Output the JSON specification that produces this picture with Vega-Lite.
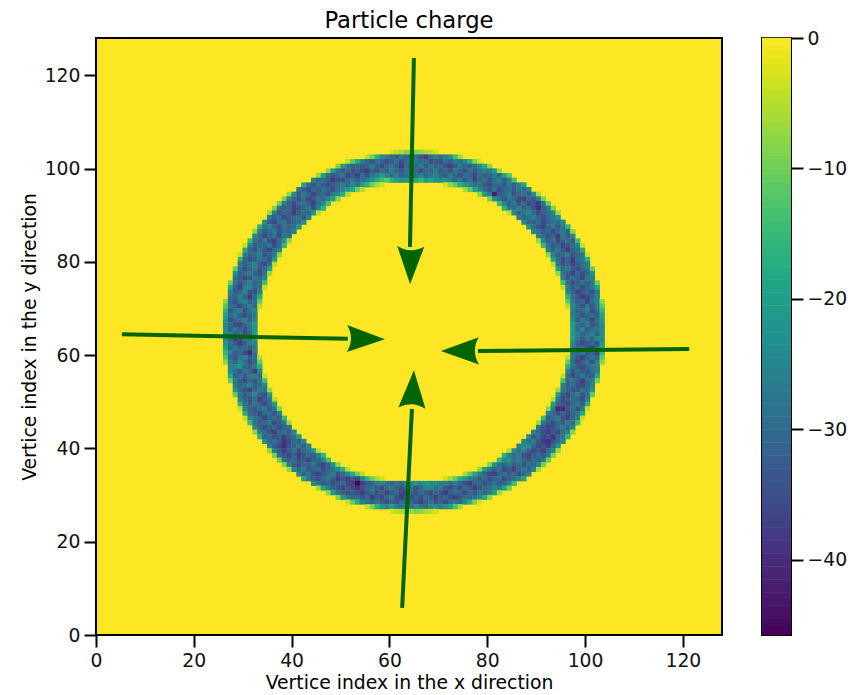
{"$schema":"https://vega.github.io/schema/vega-lite/v6.json","background":"white","padding":{"left":19,"top":9,"right":0,"bottom":0},"spacing":38,"config":{"font":"DejaVu Sans","view":{"stroke":"black","strokeWidth":2},"axis":{"grid":false,"domain":false,"tickColor":"black","tickWidth":2,"tickSize":12,"labelColor":"#111","labelFontSize":18.8,"titleColor":"black","titleFontWeight":"normal","titleFontSize":18.8,"labelPadding":4},"title":{"fontWeight":"normal","fontSize":22.7,"color":"black"}},"hconcat":[{"width":626,"height":597,"title":{"text":"Particle charge","offset":5},"view":{"fill":"#fde725"},"layer":[{"data":{"values":[
{"x":60,"y":103,"v":-3},{"x":61,"y":103,"v":-5},{"x":62,"y":103,"v":-6},{"x":63,"y":103,"v":-8},{"x":64,"y":103,"v":-7},{"x":65,"y":103,"v":-9},{"x":66,"y":103,"v":-8},{"x":67,"y":103,"v":-6},{"x":68,"y":103,"v":-5},{"x":69,"y":103,"v":-3},
{"x":55,"y":102,"v":-5},{"x":56,"y":102,"v":-9},{"x":57,"y":102,"v":-17},{"x":58,"y":102,"v":-24},{"x":59,"y":102,"v":-27},{"x":60,"y":102,"v":-30},{"x":61,"y":102,"v":-33},{"x":62,"y":102,"v":-28},{"x":63,"y":102,"v":-31},{"x":64,"y":102,"v":-36},{"x":65,"y":102,"v":-29},{"x":66,"y":102,"v":-34},{"x":67,"y":102,"v":-37},{"x":68,"y":102,"v":-30},{"x":69,"y":102,"v":-27},{"x":70,"y":102,"v":-31},{"x":71,"y":102,"v":-26},{"x":72,"y":102,"v":-22},{"x":73,"y":102,"v":-14},{"x":74,"y":102,"v":-6},
{"x":51,"y":101,"v":-4},{"x":52,"y":101,"v":-11},{"x":53,"y":101,"v":-18},{"x":54,"y":101,"v":-25},{"x":55,"y":101,"v":-30},{"x":56,"y":101,"v":-34},{"x":57,"y":101,"v":-29},{"x":58,"y":101,"v":-31},{"x":59,"y":101,"v":-36},{"x":60,"y":101,"v":-33},{"x":61,"y":101,"v":-28},{"x":62,"y":101,"v":-35},{"x":63,"y":101,"v":-30},{"x":64,"y":101,"v":-32},{"x":65,"y":101,"v":-27},{"x":66,"y":101,"v":-31},{"x":67,"y":101,"v":-29},{"x":68,"y":101,"v":-36},{"x":69,"y":101,"v":-33},{"x":70,"y":101,"v":-35},{"x":71,"y":101,"v":-28},{"x":72,"y":101,"v":-32},{"x":73,"y":101,"v":-26},{"x":74,"y":101,"v":-29},{"x":75,"y":101,"v":-24},{"x":76,"y":101,"v":-17},{"x":77,"y":101,"v":-9},{"x":78,"y":101,"v":-3},
{"x":49,"y":100,"v":-9},{"x":50,"y":100,"v":-20},{"x":51,"y":100,"v":-28},{"x":52,"y":100,"v":-32},{"x":53,"y":100,"v":-29},{"x":54,"y":100,"v":-34},{"x":55,"y":100,"v":-31},{"x":56,"y":100,"v":-27},{"x":57,"y":100,"v":-33},{"x":58,"y":100,"v":-36},{"x":59,"y":100,"v":-30},{"x":60,"y":100,"v":-28},{"x":61,"y":100,"v":-32},{"x":62,"y":100,"v":-37},{"x":63,"y":100,"v":-29},{"x":64,"y":100,"v":-34},{"x":65,"y":100,"v":-30},{"x":66,"y":100,"v":-26},{"x":67,"y":100,"v":-33},{"x":68,"y":100,"v":-28},{"x":69,"y":100,"v":-31},{"x":70,"y":100,"v":-30},{"x":71,"y":100,"v":-35},{"x":72,"y":100,"v":-37},{"x":73,"y":100,"v":-32},{"x":74,"y":100,"v":-27},{"x":75,"y":100,"v":-30},{"x":76,"y":100,"v":-33},{"x":77,"y":100,"v":-29},{"x":78,"y":100,"v":-24},{"x":79,"y":100,"v":-18},{"x":80,"y":100,"v":-8},
{"x":47,"y":99,"v":-8},{"x":48,"y":99,"v":-21},{"x":49,"y":99,"v":-29},{"x":50,"y":99,"v":-33},{"x":51,"y":99,"v":-30},{"x":52,"y":99,"v":-35},{"x":53,"y":99,"v":-32},{"x":54,"y":99,"v":-36},{"x":55,"y":99,"v":-38},{"x":56,"y":99,"v":-31},{"x":57,"y":99,"v":-35},{"x":58,"y":99,"v":-29},{"x":59,"y":99,"v":-33},{"x":60,"y":99,"v":-27},{"x":61,"y":99,"v":-31},{"x":62,"y":99,"v":-34},{"x":63,"y":99,"v":-28},{"x":64,"y":99,"v":-32},{"x":65,"y":99,"v":-30},{"x":66,"y":99,"v":-36},{"x":67,"y":99,"v":-29},{"x":68,"y":99,"v":-31},{"x":69,"y":99,"v":-27},{"x":70,"y":99,"v":-33},{"x":71,"y":99,"v":-30},{"x":72,"y":99,"v":-34},{"x":73,"y":99,"v":-28},{"x":74,"y":99,"v":-31},{"x":75,"y":99,"v":-35},{"x":76,"y":99,"v":-29},{"x":77,"y":99,"v":-33},{"x":78,"y":99,"v":-30},{"x":79,"y":99,"v":-26},{"x":80,"y":99,"v":-28},{"x":81,"y":99,"v":-20},{"x":82,"y":99,"v":-7},
{"x":45,"y":98,"v":-7},{"x":46,"y":98,"v":-20},{"x":47,"y":98,"v":-30},{"x":48,"y":98,"v":-34},{"x":49,"y":98,"v":-31},{"x":50,"y":98,"v":-28},{"x":51,"y":98,"v":-36},{"x":52,"y":98,"v":-33},{"x":53,"y":98,"v":-37},{"x":54,"y":98,"v":-30},{"x":55,"y":98,"v":-34},{"x":56,"y":98,"v":-28},{"x":57,"y":98,"v":-25},{"x":58,"y":98,"v":-22},{"x":59,"y":98,"v":-26},{"x":60,"y":98,"v":-30},{"x":61,"y":98,"v":-27},{"x":62,"y":98,"v":-32},{"x":63,"y":98,"v":-29},{"x":64,"y":98,"v":-27},{"x":65,"y":98,"v":-29},{"x":66,"y":98,"v":-25},{"x":67,"y":98,"v":-31},{"x":68,"y":98,"v":-28},{"x":69,"y":98,"v":-26},{"x":70,"y":98,"v":-30},{"x":71,"y":98,"v":-33},{"x":72,"y":98,"v":-27},{"x":73,"y":98,"v":-31},{"x":74,"y":98,"v":-35},{"x":75,"y":98,"v":-28},{"x":76,"y":98,"v":-32},{"x":77,"y":98,"v":-36},{"x":78,"y":98,"v":-29},{"x":79,"y":98,"v":-33},{"x":80,"y":98,"v":-30},{"x":81,"y":98,"v":-27},{"x":82,"y":98,"v":-31},{"x":83,"y":98,"v":-19},{"x":84,"y":98,"v":-12},
{"x":44,"y":97,"v":-25},{"x":45,"y":97,"v":-31},{"x":46,"y":97,"v":-28},{"x":47,"y":97,"v":-33},{"x":48,"y":97,"v":-38},{"x":49,"y":97,"v":-34},{"x":50,"y":97,"v":-36},{"x":51,"y":97,"v":-30},{"x":52,"y":97,"v":-27},{"x":53,"y":97,"v":-32},{"x":54,"y":97,"v":-29},{"x":55,"y":97,"v":-26},{"x":56,"y":97,"v":-22},{"x":57,"y":97,"v":-18},{"x":58,"y":97,"v":-14},{"x":59,"y":97,"v":-12},{"x":60,"y":97,"v":-17},{"x":61,"y":97,"v":-20},{"x":62,"y":97,"v":-23},{"x":63,"y":97,"v":-22},{"x":64,"y":97,"v":-20},{"x":65,"y":97,"v":-18},{"x":66,"y":97,"v":-15},{"x":67,"y":97,"v":-21},{"x":68,"y":97,"v":-19},{"x":69,"y":97,"v":-22},{"x":70,"y":97,"v":-24},{"x":71,"y":97,"v":-23},{"x":72,"y":97,"v":-27},{"x":73,"y":97,"v":-30},{"x":74,"y":97,"v":-26},{"x":75,"y":97,"v":-33},{"x":76,"y":97,"v":-29},{"x":77,"y":97,"v":-36},{"x":78,"y":97,"v":-31},{"x":79,"y":97,"v":-28},{"x":80,"y":97,"v":-34},{"x":81,"y":97,"v":-30},{"x":82,"y":97,"v":-26},{"x":83,"y":97,"v":-32},{"x":84,"y":97,"v":-27},{"x":85,"y":97,"v":-14},
{"x":42,"y":96,"v":-19},{"x":43,"y":96,"v":-30},{"x":44,"y":96,"v":-34},{"x":45,"y":96,"v":-29},{"x":46,"y":96,"v":-32},{"x":47,"y":96,"v":-36},{"x":48,"y":96,"v":-33},{"x":49,"y":96,"v":-30},{"x":50,"y":96,"v":-27},{"x":51,"y":96,"v":-31},{"x":52,"y":96,"v":-25},{"x":53,"y":96,"v":-28},{"x":54,"y":96,"v":-20},{"x":55,"y":96,"v":-16},{"x":56,"y":96,"v":-10},{"x":57,"y":96,"v":-6},{"x":58,"y":96,"v":-3},{"x":71,"y":96,"v":-3},{"x":72,"y":96,"v":-7},{"x":73,"y":96,"v":-11},{"x":74,"y":96,"v":-17},{"x":75,"y":96,"v":-21},{"x":76,"y":96,"v":-25},{"x":77,"y":96,"v":-30},{"x":78,"y":96,"v":-28},{"x":79,"y":96,"v":-33},{"x":80,"y":96,"v":-36},{"x":81,"y":96,"v":-31},{"x":82,"y":96,"v":-29},{"x":83,"y":96,"v":-34},{"x":84,"y":96,"v":-27},{"x":85,"y":96,"v":-32},{"x":86,"y":96,"v":-26},{"x":87,"y":96,"v":-19},
{"x":41,"y":95,"v":-28},{"x":42,"y":95,"v":-32},{"x":43,"y":95,"v":-36},{"x":44,"y":95,"v":-30},{"x":45,"y":95,"v":-33},{"x":46,"y":95,"v":-28},{"x":47,"y":95,"v":-31},{"x":48,"y":95,"v":-35},{"x":49,"y":95,"v":-29},{"x":50,"y":95,"v":-26},{"x":51,"y":95,"v":-22},{"x":52,"y":95,"v":-18},{"x":53,"y":95,"v":-10},{"x":54,"y":95,"v":-5},{"x":75,"y":95,"v":-6},{"x":76,"y":95,"v":-12},{"x":77,"y":95,"v":-19},{"x":78,"y":95,"v":-25},{"x":79,"y":95,"v":-30},{"x":80,"y":95,"v":-34},{"x":81,"y":95,"v":-28},{"x":82,"y":95,"v":-36},{"x":83,"y":95,"v":-31},{"x":84,"y":95,"v":-29},{"x":85,"y":95,"v":-33},{"x":86,"y":95,"v":-27},{"x":87,"y":95,"v":-30},{"x":88,"y":95,"v":-26},
{"x":39,"y":94,"v":-7},{"x":40,"y":94,"v":-24},{"x":41,"y":94,"v":-33},{"x":42,"y":94,"v":-28},{"x":43,"y":94,"v":-31},{"x":44,"y":94,"v":-37},{"x":45,"y":94,"v":-32},{"x":46,"y":94,"v":-29},{"x":47,"y":94,"v":-35},{"x":48,"y":94,"v":-27},{"x":49,"y":94,"v":-24},{"x":50,"y":94,"v":-17},{"x":51,"y":94,"v":-6},{"x":78,"y":94,"v":-8},{"x":79,"y":94,"v":-20},{"x":80,"y":94,"v":-27},{"x":81,"y":94,"v":-42},{"x":82,"y":94,"v":-33},{"x":83,"y":94,"v":-30},{"x":84,"y":94,"v":-27},{"x":85,"y":94,"v":-35},{"x":86,"y":94,"v":-31},{"x":87,"y":94,"v":-28},{"x":88,"y":94,"v":-33},{"x":89,"y":94,"v":-24},{"x":90,"y":94,"v":-6},
{"x":38,"y":93,"v":-9},{"x":39,"y":93,"v":-26},{"x":40,"y":93,"v":-31},{"x":41,"y":93,"v":-34},{"x":42,"y":93,"v":-29},{"x":43,"y":93,"v":-36},{"x":44,"y":93,"v":-33},{"x":45,"y":93,"v":-28},{"x":46,"y":93,"v":-30},{"x":47,"y":93,"v":-25},{"x":48,"y":93,"v":-20},{"x":49,"y":93,"v":-8},{"x":80,"y":93,"v":-9},{"x":81,"y":93,"v":-22},{"x":82,"y":93,"v":-29},{"x":83,"y":93,"v":-34},{"x":84,"y":93,"v":-27},{"x":85,"y":93,"v":-31},{"x":86,"y":93,"v":-36},{"x":87,"y":93,"v":-38},{"x":88,"y":93,"v":-30},{"x":89,"y":93,"v":-33},{"x":90,"y":93,"v":-27},{"x":91,"y":93,"v":-9},
{"x":37,"y":92,"v":-10},{"x":38,"y":92,"v":-27},{"x":39,"y":92,"v":-32},{"x":40,"y":92,"v":-35},{"x":41,"y":92,"v":-30},{"x":42,"y":92,"v":-28},{"x":43,"y":92,"v":-33},{"x":44,"y":92,"v":-37},{"x":45,"y":92,"v":-29},{"x":46,"y":92,"v":-24},{"x":47,"y":92,"v":-14},{"x":82,"y":92,"v":-15},{"x":83,"y":92,"v":-26},{"x":84,"y":92,"v":-31},{"x":85,"y":92,"v":-27},{"x":86,"y":92,"v":-34},{"x":87,"y":92,"v":-30},{"x":88,"y":92,"v":-36},{"x":89,"y":92,"v":-33},{"x":90,"y":92,"v":-38},{"x":91,"y":92,"v":-28},{"x":92,"y":92,"v":-10},
{"x":36,"y":91,"v":-9},{"x":37,"y":91,"v":-28},{"x":38,"y":91,"v":-33},{"x":39,"y":91,"v":-30},{"x":40,"y":91,"v":-37},{"x":41,"y":91,"v":-35},{"x":42,"y":91,"v":-31},{"x":43,"y":91,"v":-27},{"x":44,"y":91,"v":-34},{"x":45,"y":91,"v":-26},{"x":46,"y":91,"v":-16},{"x":83,"y":91,"v":-16},{"x":84,"y":91,"v":-27},{"x":85,"y":91,"v":-30},{"x":86,"y":91,"v":-26},{"x":87,"y":91,"v":-33},{"x":88,"y":91,"v":-29},{"x":89,"y":91,"v":-35},{"x":90,"y":91,"v":-40},{"x":91,"y":91,"v":-32},{"x":92,"y":91,"v":-28},{"x":93,"y":91,"v":-9},
{"x":35,"y":90,"v":-7},{"x":36,"y":90,"v":-26},{"x":37,"y":90,"v":-35},{"x":38,"y":90,"v":-30},{"x":39,"y":90,"v":-33},{"x":40,"y":90,"v":-38},{"x":41,"y":90,"v":-32},{"x":42,"y":90,"v":-29},{"x":43,"y":90,"v":-31},{"x":44,"y":90,"v":-22},{"x":45,"y":90,"v":-5},{"x":84,"y":90,"v":-5},{"x":85,"y":90,"v":-24},{"x":86,"y":90,"v":-31},{"x":87,"y":90,"v":-28},{"x":88,"y":90,"v":-25},{"x":89,"y":90,"v":-30},{"x":90,"y":90,"v":-36},{"x":91,"y":90,"v":-33},{"x":92,"y":90,"v":-29},{"x":93,"y":90,"v":-26},{"x":94,"y":90,"v":-7},
{"x":35,"y":89,"v":-26},{"x":36,"y":89,"v":-32},{"x":37,"y":89,"v":-29},{"x":38,"y":89,"v":-36},{"x":39,"y":89,"v":-33},{"x":40,"y":89,"v":-30},{"x":41,"y":89,"v":-28},{"x":42,"y":89,"v":-34},{"x":43,"y":89,"v":-25},{"x":86,"y":89,"v":-27},{"x":87,"y":89,"v":-32},{"x":88,"y":89,"v":-29},{"x":89,"y":89,"v":-26},{"x":90,"y":89,"v":-31},{"x":91,"y":89,"v":-35},{"x":92,"y":89,"v":-30},{"x":93,"y":89,"v":-27},{"x":94,"y":89,"v":-22},
{"x":34,"y":88,"v":-23},{"x":35,"y":88,"v":-33},{"x":36,"y":88,"v":-36},{"x":37,"y":88,"v":-30},{"x":38,"y":88,"v":-27},{"x":39,"y":88,"v":-34},{"x":40,"y":88,"v":-31},{"x":41,"y":88,"v":-29},{"x":42,"y":88,"v":-24},{"x":87,"y":88,"v":-24},{"x":88,"y":88,"v":-31},{"x":89,"y":88,"v":-33},{"x":90,"y":88,"v":-29},{"x":91,"y":88,"v":-36},{"x":92,"y":88,"v":-32},{"x":93,"y":88,"v":-28},{"x":94,"y":88,"v":-30},{"x":95,"y":88,"v":-24},
{"x":33,"y":87,"v":-17},{"x":34,"y":87,"v":-29},{"x":35,"y":87,"v":-25},{"x":36,"y":87,"v":-32},{"x":37,"y":87,"v":-35},{"x":38,"y":87,"v":-28},{"x":39,"y":87,"v":-31},{"x":40,"y":87,"v":-30},{"x":41,"y":87,"v":-22},{"x":88,"y":87,"v":-23},{"x":89,"y":87,"v":-30},{"x":90,"y":87,"v":-34},{"x":91,"y":87,"v":-37},{"x":92,"y":87,"v":-31},{"x":93,"y":87,"v":-28},{"x":94,"y":87,"v":-33},{"x":95,"y":87,"v":-27},{"x":96,"y":87,"v":-16},
{"x":32,"y":86,"v":-8},{"x":33,"y":86,"v":-26},{"x":34,"y":86,"v":-33},{"x":35,"y":86,"v":-30},{"x":36,"y":86,"v":-27},{"x":37,"y":86,"v":-34},{"x":38,"y":86,"v":-29},{"x":39,"y":86,"v":-32},{"x":40,"y":86,"v":-25},{"x":89,"y":86,"v":-25},{"x":90,"y":86,"v":-28},{"x":91,"y":86,"v":-33},{"x":92,"y":86,"v":-30},{"x":93,"y":86,"v":-36},{"x":94,"y":86,"v":-29},{"x":95,"y":86,"v":-27},{"x":96,"y":86,"v":-31},{"x":97,"y":86,"v":-8},
{"x":32,"y":85,"v":-25},{"x":33,"y":85,"v":-30},{"x":34,"y":85,"v":-36},{"x":35,"y":85,"v":-31},{"x":36,"y":85,"v":-28},{"x":37,"y":85,"v":-35},{"x":38,"y":85,"v":-27},{"x":39,"y":85,"v":-29},{"x":90,"y":85,"v":-27},{"x":91,"y":85,"v":-30},{"x":92,"y":85,"v":-35},{"x":93,"y":85,"v":-31},{"x":94,"y":85,"v":-38},{"x":95,"y":85,"v":-28},{"x":96,"y":85,"v":-33},{"x":97,"y":85,"v":-25},
{"x":31,"y":84,"v":-15},{"x":32,"y":84,"v":-29},{"x":33,"y":84,"v":-32},{"x":34,"y":84,"v":-27},{"x":35,"y":84,"v":-34},{"x":36,"y":84,"v":-37},{"x":37,"y":84,"v":-30},{"x":38,"y":84,"v":-22},{"x":39,"y":84,"v":-7},{"x":90,"y":84,"v":-7},{"x":91,"y":84,"v":-25},{"x":92,"y":84,"v":-32},{"x":93,"y":84,"v":-29},{"x":94,"y":84,"v":-36},{"x":95,"y":84,"v":-31},{"x":96,"y":84,"v":-28},{"x":97,"y":84,"v":-33},{"x":98,"y":84,"v":-15},
{"x":30,"y":83,"v":-4},{"x":31,"y":83,"v":-24},{"x":32,"y":83,"v":-33},{"x":33,"y":83,"v":-29},{"x":34,"y":83,"v":-31},{"x":35,"y":83,"v":-27},{"x":36,"y":83,"v":-35},{"x":37,"y":83,"v":-30},{"x":38,"y":83,"v":-15},{"x":91,"y":83,"v":-15},{"x":92,"y":83,"v":-28},{"x":93,"y":83,"v":-33},{"x":94,"y":83,"v":-30},{"x":95,"y":83,"v":-37},{"x":96,"y":83,"v":-34},{"x":97,"y":83,"v":-29},{"x":98,"y":83,"v":-25},{"x":99,"y":83,"v":-4},
{"x":30,"y":82,"v":-18},{"x":31,"y":82,"v":-30},{"x":32,"y":82,"v":-35},{"x":33,"y":82,"v":-28},{"x":34,"y":82,"v":-33},{"x":35,"y":82,"v":-36},{"x":36,"y":82,"v":-29},{"x":37,"y":82,"v":-25},{"x":92,"y":82,"v":-25},{"x":93,"y":82,"v":-31},{"x":94,"y":82,"v":-27},{"x":95,"y":82,"v":-34},{"x":96,"y":82,"v":-38},{"x":97,"y":82,"v":-32},{"x":98,"y":82,"v":-29},{"x":99,"y":82,"v":-18},
{"x":29,"y":81,"v":-4},{"x":30,"y":81,"v":-27},{"x":31,"y":81,"v":-32},{"x":32,"y":81,"v":-29},{"x":33,"y":81,"v":-26},{"x":34,"y":81,"v":-34},{"x":35,"y":81,"v":-31},{"x":36,"y":81,"v":-28},{"x":37,"y":81,"v":-8},{"x":92,"y":81,"v":-8},{"x":93,"y":81,"v":-26},{"x":94,"y":81,"v":-33},{"x":95,"y":81,"v":-30},{"x":96,"y":81,"v":-27},{"x":97,"y":81,"v":-35},{"x":98,"y":81,"v":-31},{"x":99,"y":81,"v":-28},{"x":100,"y":81,"v":-4},
{"x":29,"y":80,"v":-17},{"x":30,"y":80,"v":-31},{"x":31,"y":80,"v":-36},{"x":32,"y":80,"v":-33},{"x":33,"y":80,"v":-28},{"x":34,"y":80,"v":-30},{"x":35,"y":80,"v":-34},{"x":36,"y":80,"v":-20},{"x":93,"y":80,"v":-20},{"x":94,"y":80,"v":-29},{"x":95,"y":80,"v":-36},{"x":96,"y":80,"v":-32},{"x":97,"y":80,"v":-38},{"x":98,"y":80,"v":-30},{"x":99,"y":80,"v":-27},{"x":100,"y":80,"v":-17},
{"x":29,"y":79,"v":-28},{"x":30,"y":79,"v":-33},{"x":31,"y":79,"v":-28},{"x":32,"y":79,"v":-25},{"x":33,"y":79,"v":-32},{"x":34,"y":79,"v":-36},{"x":35,"y":79,"v":-30},{"x":36,"y":79,"v":-5},{"x":93,"y":79,"v":-5},{"x":94,"y":79,"v":-28},{"x":95,"y":79,"v":-34},{"x":96,"y":79,"v":-31},{"x":97,"y":79,"v":-37},{"x":98,"y":79,"v":-33},{"x":99,"y":79,"v":-29},{"x":100,"y":79,"v":-26},
{"x":28,"y":78,"v":-11},{"x":29,"y":78,"v":-29},{"x":30,"y":78,"v":-34},{"x":31,"y":78,"v":-31},{"x":32,"y":78,"v":-27},{"x":33,"y":78,"v":-35},{"x":34,"y":78,"v":-30},{"x":35,"y":78,"v":-20},{"x":94,"y":78,"v":-20},{"x":95,"y":78,"v":-30},{"x":96,"y":78,"v":-27},{"x":97,"y":78,"v":-33},{"x":98,"y":78,"v":-36},{"x":99,"y":78,"v":-31},{"x":100,"y":78,"v":-28},{"x":101,"y":78,"v":-11},
{"x":28,"y":77,"v":-22},{"x":29,"y":77,"v":-33},{"x":30,"y":77,"v":-29},{"x":31,"y":77,"v":-26},{"x":32,"y":77,"v":-31},{"x":33,"y":77,"v":-35},{"x":34,"y":77,"v":-28},{"x":35,"y":77,"v":-7},{"x":94,"y":77,"v":-7},{"x":95,"y":77,"v":-28},{"x":96,"y":77,"v":-33},{"x":97,"y":77,"v":-37},{"x":98,"y":77,"v":-30},{"x":99,"y":77,"v":-34},{"x":100,"y":77,"v":-31},{"x":101,"y":77,"v":-22},
{"x":28,"y":76,"v":-29},{"x":29,"y":76,"v":-31},{"x":30,"y":76,"v":-37},{"x":31,"y":76,"v":-33},{"x":32,"y":76,"v":-28},{"x":33,"y":76,"v":-30},{"x":34,"y":76,"v":-25},{"x":95,"y":76,"v":-25},{"x":96,"y":76,"v":-34},{"x":97,"y":76,"v":-29},{"x":98,"y":76,"v":-32},{"x":99,"y":76,"v":-36},{"x":100,"y":76,"v":-27},{"x":101,"y":76,"v":-26},
{"x":27,"y":75,"v":-10},{"x":28,"y":75,"v":-28},{"x":29,"y":75,"v":-34},{"x":30,"y":75,"v":-30},{"x":31,"y":75,"v":-26},{"x":32,"y":75,"v":-33},{"x":33,"y":75,"v":-29},{"x":34,"y":75,"v":-14},{"x":95,"y":75,"v":-14},{"x":96,"y":75,"v":-30},{"x":97,"y":75,"v":-36},{"x":98,"y":75,"v":-33},{"x":99,"y":75,"v":-28},{"x":100,"y":75,"v":-31},{"x":101,"y":75,"v":-29},{"x":102,"y":75,"v":-10},
{"x":27,"y":74,"v":-18},{"x":28,"y":74,"v":-32},{"x":29,"y":74,"v":-37},{"x":30,"y":74,"v":-27},{"x":31,"y":74,"v":-24},{"x":32,"y":74,"v":-31},{"x":33,"y":74,"v":-28},{"x":34,"y":74,"v":-4},{"x":95,"y":74,"v":-4},{"x":96,"y":74,"v":-26},{"x":97,"y":74,"v":-33},{"x":98,"y":74,"v":-29},{"x":99,"y":74,"v":-35},{"x":100,"y":74,"v":-32},{"x":101,"y":74,"v":-28},{"x":102,"y":74,"v":-18},
{"x":27,"y":73,"v":-26},{"x":28,"y":73,"v":-33},{"x":29,"y":73,"v":-30},{"x":30,"y":73,"v":-25},{"x":31,"y":73,"v":-34},{"x":32,"y":73,"v":-36},{"x":33,"y":73,"v":-25},{"x":96,"y":73,"v":-25},{"x":97,"y":73,"v":-31},{"x":98,"y":73,"v":-37},{"x":99,"y":73,"v":-33},{"x":100,"y":73,"v":-30},{"x":101,"y":73,"v":-35},{"x":102,"y":73,"v":-26},
{"x":27,"y":72,"v":-28},{"x":28,"y":72,"v":-31},{"x":29,"y":72,"v":-26},{"x":30,"y":72,"v":-32},{"x":31,"y":72,"v":-38},{"x":32,"y":72,"v":-30},{"x":33,"y":72,"v":-17},{"x":96,"y":72,"v":-17},{"x":97,"y":72,"v":-29},{"x":98,"y":72,"v":-34},{"x":99,"y":72,"v":-38},{"x":100,"y":72,"v":-36},{"x":101,"y":72,"v":-31},{"x":102,"y":72,"v":-25},
{"x":26,"y":71,"v":-8},{"x":27,"y":71,"v":-30},{"x":28,"y":71,"v":-35},{"x":29,"y":71,"v":-27},{"x":30,"y":71,"v":-24},{"x":31,"y":71,"v":-33},{"x":32,"y":71,"v":-29},{"x":33,"y":71,"v":-11},{"x":96,"y":71,"v":-11},{"x":97,"y":71,"v":-27},{"x":98,"y":71,"v":-33},{"x":99,"y":71,"v":-30},{"x":100,"y":71,"v":-37},{"x":101,"y":71,"v":-29},{"x":102,"y":71,"v":-26},{"x":103,"y":71,"v":-8},
{"x":26,"y":70,"v":-12},{"x":27,"y":70,"v":-28},{"x":28,"y":70,"v":-32},{"x":29,"y":70,"v":-36},{"x":30,"y":70,"v":-30},{"x":31,"y":70,"v":-26},{"x":32,"y":70,"v":-31},{"x":33,"y":70,"v":-5},{"x":96,"y":70,"v":-5},{"x":97,"y":70,"v":-24},{"x":98,"y":70,"v":-30},{"x":99,"y":70,"v":-34},{"x":100,"y":70,"v":-28},{"x":101,"y":70,"v":-33},{"x":102,"y":70,"v":-27},{"x":103,"y":70,"v":-12},
{"x":26,"y":69,"v":-16},{"x":27,"y":69,"v":-33},{"x":28,"y":69,"v":-29},{"x":29,"y":69,"v":-25},{"x":30,"y":69,"v":-35},{"x":31,"y":69,"v":-28},{"x":32,"y":69,"v":-24},{"x":97,"y":69,"v":-27},{"x":98,"y":69,"v":-32},{"x":99,"y":69,"v":-29},{"x":100,"y":69,"v":-26},{"x":101,"y":69,"v":-36},{"x":102,"y":69,"v":-30},{"x":103,"y":69,"v":-16},
{"x":26,"y":68,"v":-19},{"x":27,"y":68,"v":-30},{"x":28,"y":68,"v":-26},{"x":29,"y":68,"v":-33},{"x":30,"y":68,"v":-36},{"x":31,"y":68,"v":-31},{"x":32,"y":68,"v":-27},{"x":97,"y":68,"v":-27},{"x":98,"y":68,"v":-29},{"x":99,"y":68,"v":-35},{"x":100,"y":68,"v":-31},{"x":101,"y":68,"v":-28},{"x":102,"y":68,"v":-33},{"x":103,"y":68,"v":-19},
{"x":26,"y":67,"v":-21},{"x":27,"y":67,"v":-34},{"x":28,"y":67,"v":-31},{"x":29,"y":67,"v":-28},{"x":30,"y":67,"v":-25},{"x":31,"y":67,"v":-33},{"x":32,"y":67,"v":-24},{"x":97,"y":67,"v":-24},{"x":98,"y":67,"v":-33},{"x":99,"y":67,"v":-27},{"x":100,"y":67,"v":-30},{"x":101,"y":67,"v":-36},{"x":102,"y":67,"v":-29},{"x":103,"y":67,"v":-21},
{"x":26,"y":66,"v":-24},{"x":27,"y":66,"v":-29},{"x":28,"y":66,"v":-35},{"x":29,"y":66,"v":-37},{"x":30,"y":66,"v":-30},{"x":31,"y":66,"v":-27},{"x":32,"y":66,"v":-21},{"x":97,"y":66,"v":-21},{"x":98,"y":66,"v":-28},{"x":99,"y":66,"v":-32},{"x":100,"y":66,"v":-26},{"x":101,"y":66,"v":-34},{"x":102,"y":66,"v":-31},{"x":103,"y":66,"v":-24},
{"x":26,"y":65,"v":-24},{"x":27,"y":65,"v":-32},{"x":28,"y":65,"v":-27},{"x":29,"y":65,"v":-31},{"x":30,"y":65,"v":-34},{"x":31,"y":65,"v":-29},{"x":32,"y":65,"v":-21},{"x":97,"y":65,"v":-21},{"x":98,"y":65,"v":-30},{"x":99,"y":65,"v":-25},{"x":100,"y":65,"v":-33},{"x":101,"y":65,"v":-29},{"x":102,"y":65,"v":-27},{"x":103,"y":65,"v":-24},
{"x":26,"y":64,"v":-24},{"x":27,"y":64,"v":-26},{"x":28,"y":64,"v":-33},{"x":29,"y":64,"v":-29},{"x":30,"y":64,"v":-36},{"x":31,"y":64,"v":-31},{"x":32,"y":64,"v":-21},{"x":97,"y":64,"v":-21},{"x":98,"y":64,"v":-26},{"x":99,"y":64,"v":-31},{"x":100,"y":64,"v":-28},{"x":101,"y":64,"v":-25},{"x":102,"y":64,"v":-32},{"x":103,"y":64,"v":-24},
{"x":26,"y":63,"v":-24},{"x":27,"y":63,"v":-31},{"x":28,"y":63,"v":-37},{"x":29,"y":63,"v":-34},{"x":30,"y":63,"v":-28},{"x":31,"y":63,"v":-30},{"x":32,"y":63,"v":-21},{"x":97,"y":63,"v":-21},{"x":98,"y":63,"v":-29},{"x":99,"y":63,"v":-33},{"x":100,"y":63,"v":-27},{"x":101,"y":63,"v":-31},{"x":102,"y":63,"v":-24},{"x":103,"y":63,"v":-24},
{"x":26,"y":62,"v":-22},{"x":27,"y":62,"v":-28},{"x":28,"y":62,"v":-33},{"x":29,"y":62,"v":-38},{"x":30,"y":62,"v":-32},{"x":31,"y":62,"v":-26},{"x":32,"y":62,"v":-24},{"x":97,"y":62,"v":-24},{"x":98,"y":62,"v":-31},{"x":99,"y":62,"v":-36},{"x":100,"y":62,"v":-33},{"x":101,"y":62,"v":-29},{"x":102,"y":62,"v":-35},{"x":103,"y":62,"v":-22},
{"x":26,"y":61,"v":-19},{"x":27,"y":61,"v":-31},{"x":28,"y":61,"v":-27},{"x":29,"y":61,"v":-30},{"x":30,"y":61,"v":-29},{"x":31,"y":61,"v":-34},{"x":32,"y":61,"v":-27},{"x":97,"y":61,"v":-27},{"x":98,"y":61,"v":-32},{"x":99,"y":61,"v":-28},{"x":100,"y":61,"v":-35},{"x":101,"y":61,"v":-38},{"x":102,"y":61,"v":-30},{"x":103,"y":61,"v":-19},
{"x":26,"y":60,"v":-16},{"x":27,"y":60,"v":-26},{"x":28,"y":60,"v":-33},{"x":29,"y":60,"v":-30},{"x":30,"y":60,"v":-36},{"x":31,"y":60,"v":-41},{"x":32,"y":60,"v":-28},{"x":97,"y":60,"v":-28},{"x":98,"y":60,"v":-30},{"x":99,"y":60,"v":-26},{"x":100,"y":60,"v":-33},{"x":101,"y":60,"v":-29},{"x":102,"y":60,"v":-36},{"x":103,"y":60,"v":-16},
{"x":26,"y":59,"v":-12},{"x":27,"y":59,"v":-30},{"x":28,"y":59,"v":-34},{"x":29,"y":59,"v":-28},{"x":30,"y":59,"v":-26},{"x":31,"y":59,"v":-32},{"x":32,"y":59,"v":-29},{"x":33,"y":59,"v":-5},{"x":96,"y":59,"v":-5},{"x":97,"y":59,"v":-27},{"x":98,"y":59,"v":-33},{"x":99,"y":59,"v":-37},{"x":100,"y":59,"v":-30},{"x":101,"y":59,"v":-28},{"x":102,"y":59,"v":-31},{"x":103,"y":59,"v":-12},
{"x":26,"y":58,"v":-8},{"x":27,"y":58,"v":-27},{"x":28,"y":58,"v":-31},{"x":29,"y":58,"v":-24},{"x":30,"y":58,"v":-29},{"x":31,"y":58,"v":-36},{"x":32,"y":58,"v":-31},{"x":33,"y":58,"v":-11},{"x":96,"y":58,"v":-11},{"x":97,"y":58,"v":-30},{"x":98,"y":58,"v":-36},{"x":99,"y":58,"v":-32},{"x":100,"y":58,"v":-28},{"x":101,"y":58,"v":-34},{"x":102,"y":58,"v":-26},{"x":103,"y":58,"v":-8},
{"x":27,"y":57,"v":-26},{"x":28,"y":57,"v":-25},{"x":29,"y":57,"v":-22},{"x":30,"y":57,"v":-30},{"x":31,"y":57,"v":-33},{"x":32,"y":57,"v":-28},{"x":33,"y":57,"v":-17},{"x":96,"y":57,"v":-17},{"x":97,"y":57,"v":-28},{"x":98,"y":57,"v":-33},{"x":99,"y":57,"v":-36},{"x":100,"y":57,"v":-31},{"x":101,"y":57,"v":-27},{"x":102,"y":57,"v":-25},
{"x":27,"y":56,"v":-24},{"x":28,"y":56,"v":-30},{"x":29,"y":56,"v":-34},{"x":30,"y":56,"v":-27},{"x":31,"y":56,"v":-31},{"x":32,"y":56,"v":-38},{"x":33,"y":56,"v":-25},{"x":96,"y":56,"v":-25},{"x":97,"y":56,"v":-34},{"x":98,"y":56,"v":-29},{"x":99,"y":56,"v":-32},{"x":100,"y":56,"v":-35},{"x":101,"y":56,"v":-30},{"x":102,"y":56,"v":-26},
{"x":27,"y":55,"v":-18},{"x":28,"y":55,"v":-31},{"x":29,"y":55,"v":-29},{"x":30,"y":55,"v":-33},{"x":31,"y":55,"v":-28},{"x":32,"y":55,"v":-26},{"x":33,"y":55,"v":-30},{"x":34,"y":55,"v":-4},{"x":95,"y":55,"v":-4},{"x":96,"y":55,"v":-29},{"x":97,"y":55,"v":-36},{"x":98,"y":55,"v":-32},{"x":99,"y":55,"v":-27},{"x":100,"y":55,"v":-31},{"x":101,"y":55,"v":-33},{"x":102,"y":55,"v":-18},
{"x":27,"y":54,"v":-10},{"x":28,"y":54,"v":-27},{"x":29,"y":54,"v":-32},{"x":30,"y":54,"v":-36},{"x":31,"y":54,"v":-30},{"x":32,"y":54,"v":-34},{"x":33,"y":54,"v":-28},{"x":34,"y":54,"v":-14},{"x":95,"y":54,"v":-14},{"x":96,"y":54,"v":-31},{"x":97,"y":54,"v":-28},{"x":98,"y":54,"v":-33},{"x":99,"y":54,"v":-38},{"x":100,"y":54,"v":-30},{"x":101,"y":54,"v":-27},{"x":102,"y":54,"v":-10},
{"x":28,"y":53,"v":-27},{"x":29,"y":53,"v":-31},{"x":30,"y":53,"v":-28},{"x":31,"y":53,"v":-25},{"x":32,"y":53,"v":-33},{"x":33,"y":53,"v":-30},{"x":34,"y":53,"v":-25},{"x":95,"y":53,"v":-25},{"x":96,"y":53,"v":-32},{"x":97,"y":53,"v":-29},{"x":98,"y":53,"v":-34},{"x":99,"y":53,"v":-36},{"x":100,"y":53,"v":-31},{"x":101,"y":53,"v":-26},
{"x":28,"y":52,"v":-22},{"x":29,"y":52,"v":-30},{"x":30,"y":52,"v":-34},{"x":31,"y":52,"v":-37},{"x":32,"y":52,"v":-31},{"x":33,"y":52,"v":-27},{"x":34,"y":52,"v":-29},{"x":35,"y":52,"v":-7},{"x":94,"y":52,"v":-7},{"x":95,"y":52,"v":-27},{"x":96,"y":52,"v":-31},{"x":97,"y":52,"v":-35},{"x":98,"y":52,"v":-33},{"x":99,"y":52,"v":-28},{"x":100,"y":52,"v":-30},{"x":101,"y":52,"v":-22},
{"x":28,"y":51,"v":-11},{"x":29,"y":51,"v":-28},{"x":30,"y":51,"v":-33},{"x":31,"y":51,"v":-29},{"x":32,"y":51,"v":-26},{"x":33,"y":51,"v":-32},{"x":34,"y":51,"v":-35},{"x":35,"y":51,"v":-20},{"x":94,"y":51,"v":-20},{"x":95,"y":51,"v":-33},{"x":96,"y":51,"v":-37},{"x":97,"y":51,"v":-30},{"x":98,"y":51,"v":-27},{"x":99,"y":51,"v":-34},{"x":100,"y":51,"v":-29},{"x":101,"y":51,"v":-11},
{"x":29,"y":50,"v":-27},{"x":30,"y":50,"v":-31},{"x":31,"y":50,"v":-35},{"x":32,"y":50,"v":-30},{"x":33,"y":50,"v":-38},{"x":34,"y":50,"v":-33},{"x":35,"y":50,"v":-28},{"x":36,"y":50,"v":-5},{"x":93,"y":50,"v":-5},{"x":94,"y":50,"v":-28},{"x":95,"y":50,"v":-36},{"x":96,"y":50,"v":-33},{"x":97,"y":50,"v":-29},{"x":98,"y":50,"v":-31},{"x":99,"y":50,"v":-35},{"x":100,"y":50,"v":-26},
{"x":29,"y":49,"v":-17},{"x":30,"y":49,"v":-29},{"x":31,"y":49,"v":-33},{"x":32,"y":49,"v":-27},{"x":33,"y":49,"v":-31},{"x":34,"y":49,"v":-36},{"x":35,"y":49,"v":-30},{"x":36,"y":49,"v":-20},{"x":93,"y":49,"v":-20},{"x":94,"y":49,"v":-31},{"x":95,"y":49,"v":-34},{"x":96,"y":49,"v":-36},{"x":97,"y":49,"v":-30},{"x":98,"y":49,"v":-27},{"x":99,"y":49,"v":-33},{"x":100,"y":49,"v":-17},
{"x":29,"y":48,"v":-4},{"x":30,"y":48,"v":-26},{"x":31,"y":48,"v":-31},{"x":32,"y":48,"v":-34},{"x":33,"y":48,"v":-29},{"x":34,"y":48,"v":-27},{"x":35,"y":48,"v":-33},{"x":36,"y":48,"v":-28},{"x":37,"y":48,"v":-8},{"x":92,"y":48,"v":-8},{"x":93,"y":48,"v":-27},{"x":94,"y":48,"v":-41},{"x":95,"y":48,"v":-41},{"x":96,"y":48,"v":-33},{"x":97,"y":48,"v":-29},{"x":98,"y":48,"v":-35},{"x":99,"y":48,"v":-28},{"x":100,"y":48,"v":-4},
{"x":30,"y":47,"v":-18},{"x":31,"y":47,"v":-30},{"x":32,"y":47,"v":-33},{"x":33,"y":47,"v":-36},{"x":34,"y":47,"v":-30},{"x":35,"y":47,"v":-28},{"x":36,"y":47,"v":-34},{"x":37,"y":47,"v":-25},{"x":92,"y":47,"v":-25},{"x":93,"y":47,"v":-30},{"x":94,"y":47,"v":-34},{"x":95,"y":47,"v":-31},{"x":96,"y":47,"v":-36},{"x":97,"y":47,"v":-30},{"x":98,"y":47,"v":-27},{"x":99,"y":47,"v":-18},
{"x":30,"y":46,"v":-4},{"x":31,"y":46,"v":-24},{"x":32,"y":46,"v":-28},{"x":33,"y":46,"v":-32},{"x":34,"y":46,"v":-37},{"x":35,"y":46,"v":-31},{"x":36,"y":46,"v":-29},{"x":37,"y":46,"v":-33},{"x":38,"y":46,"v":-15},{"x":91,"y":46,"v":-15},{"x":92,"y":46,"v":-33},{"x":93,"y":46,"v":-29},{"x":94,"y":46,"v":-27},{"x":95,"y":46,"v":-34},{"x":96,"y":46,"v":-38},{"x":97,"y":46,"v":-31},{"x":98,"y":46,"v":-25},{"x":99,"y":46,"v":-4},
{"x":31,"y":45,"v":-15},{"x":32,"y":45,"v":-29},{"x":33,"y":45,"v":-33},{"x":34,"y":45,"v":-30},{"x":35,"y":45,"v":-27},{"x":36,"y":45,"v":-36},{"x":37,"y":45,"v":-32},{"x":38,"y":45,"v":-28},{"x":39,"y":45,"v":-7},{"x":90,"y":45,"v":-7},{"x":91,"y":45,"v":-28},{"x":92,"y":45,"v":-32},{"x":93,"y":45,"v":-36},{"x":94,"y":45,"v":-30},{"x":95,"y":45,"v":-33},{"x":96,"y":45,"v":-27},{"x":97,"y":45,"v":-30},{"x":98,"y":45,"v":-15},
{"x":32,"y":44,"v":-25},{"x":33,"y":44,"v":-31},{"x":34,"y":44,"v":-36},{"x":35,"y":44,"v":-33},{"x":36,"y":44,"v":-29},{"x":37,"y":44,"v":-35},{"x":38,"y":44,"v":-31},{"x":39,"y":44,"v":-29},{"x":90,"y":44,"v":-28},{"x":91,"y":44,"v":-33},{"x":92,"y":44,"v":-37},{"x":93,"y":44,"v":-34},{"x":94,"y":44,"v":-30},{"x":95,"y":44,"v":-27},{"x":96,"y":44,"v":-31},{"x":97,"y":44,"v":-25},
{"x":32,"y":43,"v":-8},{"x":33,"y":43,"v":-27},{"x":34,"y":43,"v":-30},{"x":35,"y":43,"v":-34},{"x":36,"y":43,"v":-38},{"x":37,"y":43,"v":-31},{"x":38,"y":43,"v":-28},{"x":39,"y":43,"v":-33},{"x":40,"y":43,"v":-25},{"x":89,"y":43,"v":-25},{"x":90,"y":43,"v":-30},{"x":91,"y":43,"v":-35},{"x":92,"y":43,"v":-38},{"x":93,"y":43,"v":-32},{"x":94,"y":43,"v":-36},{"x":95,"y":43,"v":-29},{"x":96,"y":43,"v":-27},{"x":97,"y":43,"v":-8},
{"x":33,"y":42,"v":-17},{"x":34,"y":42,"v":-32},{"x":35,"y":42,"v":-29},{"x":36,"y":42,"v":-35},{"x":37,"y":42,"v":-31},{"x":38,"y":42,"v":-37},{"x":39,"y":42,"v":-33},{"x":40,"y":42,"v":-30},{"x":41,"y":42,"v":-22},{"x":88,"y":42,"v":-23},{"x":89,"y":42,"v":-33},{"x":90,"y":42,"v":-29},{"x":91,"y":42,"v":-36},{"x":92,"y":42,"v":-34},{"x":93,"y":42,"v":-39},{"x":94,"y":42,"v":-31},{"x":95,"y":42,"v":-28},{"x":96,"y":42,"v":-16},
{"x":34,"y":41,"v":-23},{"x":35,"y":41,"v":-31},{"x":36,"y":41,"v":-28},{"x":37,"y":41,"v":-33},{"x":38,"y":41,"v":-39},{"x":39,"y":41,"v":-36},{"x":40,"y":41,"v":-30},{"x":41,"y":41,"v":-33},{"x":42,"y":41,"v":-24},{"x":87,"y":41,"v":-24},{"x":88,"y":41,"v":-30},{"x":89,"y":41,"v":-27},{"x":90,"y":41,"v":-33},{"x":91,"y":41,"v":-38},{"x":92,"y":41,"v":-40},{"x":93,"y":41,"v":-35},{"x":94,"y":41,"v":-31},{"x":95,"y":41,"v":-24},
{"x":35,"y":40,"v":-26},{"x":36,"y":40,"v":-33},{"x":37,"y":40,"v":-36},{"x":38,"y":40,"v":-40},{"x":39,"y":40,"v":-34},{"x":40,"y":40,"v":-31},{"x":41,"y":40,"v":-28},{"x":42,"y":40,"v":-32},{"x":43,"y":40,"v":-25},{"x":86,"y":40,"v":-27},{"x":87,"y":40,"v":-25},{"x":88,"y":40,"v":-23},{"x":89,"y":40,"v":-30},{"x":90,"y":40,"v":-36},{"x":91,"y":40,"v":-34},{"x":92,"y":40,"v":-38},{"x":93,"y":40,"v":-31},{"x":94,"y":40,"v":-22},
{"x":35,"y":39,"v":-7},{"x":36,"y":39,"v":-27},{"x":37,"y":39,"v":-32},{"x":38,"y":39,"v":-37},{"x":39,"y":39,"v":-33},{"x":40,"y":39,"v":-29},{"x":41,"y":39,"v":-35},{"x":42,"y":39,"v":-31},{"x":43,"y":39,"v":-28},{"x":44,"y":39,"v":-22},{"x":45,"y":39,"v":-5},{"x":84,"y":39,"v":-5},{"x":85,"y":39,"v":-24},{"x":86,"y":39,"v":-29},{"x":87,"y":39,"v":-26},{"x":88,"y":39,"v":-32},{"x":89,"y":39,"v":-36},{"x":90,"y":39,"v":-33},{"x":91,"y":39,"v":-37},{"x":92,"y":39,"v":-30},{"x":93,"y":39,"v":-26},{"x":94,"y":39,"v":-7},
{"x":36,"y":38,"v":-9},{"x":37,"y":38,"v":-29},{"x":38,"y":38,"v":-33},{"x":39,"y":38,"v":-36},{"x":40,"y":38,"v":-31},{"x":41,"y":38,"v":-38},{"x":42,"y":38,"v":-34},{"x":43,"y":38,"v":-30},{"x":44,"y":38,"v":-33},{"x":45,"y":38,"v":-26},{"x":46,"y":38,"v":-16},{"x":83,"y":38,"v":-16},{"x":84,"y":38,"v":-26},{"x":85,"y":38,"v":-30},{"x":86,"y":38,"v":-27},{"x":87,"y":38,"v":-34},{"x":88,"y":38,"v":-37},{"x":89,"y":38,"v":-32},{"x":90,"y":38,"v":-29},{"x":91,"y":38,"v":-33},{"x":92,"y":38,"v":-27},{"x":93,"y":38,"v":-9},
{"x":37,"y":37,"v":-10},{"x":38,"y":37,"v":-28},{"x":39,"y":37,"v":-32},{"x":40,"y":37,"v":-29},{"x":41,"y":37,"v":-35},{"x":42,"y":37,"v":-33},{"x":43,"y":37,"v":-37},{"x":44,"y":37,"v":-31},{"x":45,"y":37,"v":-29},{"x":46,"y":37,"v":-25},{"x":47,"y":37,"v":-14},{"x":82,"y":37,"v":-15},{"x":83,"y":37,"v":-24},{"x":84,"y":37,"v":-22},{"x":85,"y":37,"v":-29},{"x":86,"y":37,"v":-26},{"x":87,"y":37,"v":-31},{"x":88,"y":37,"v":-35},{"x":89,"y":37,"v":-29},{"x":90,"y":37,"v":-32},{"x":91,"y":37,"v":-28},{"x":92,"y":37,"v":-10},
{"x":38,"y":36,"v":-9},{"x":39,"y":36,"v":-27},{"x":40,"y":36,"v":-33},{"x":41,"y":36,"v":-36},{"x":42,"y":36,"v":-30},{"x":43,"y":36,"v":-32},{"x":44,"y":36,"v":-28},{"x":45,"y":36,"v":-34},{"x":46,"y":36,"v":-37},{"x":47,"y":36,"v":-31},{"x":48,"y":36,"v":-22},{"x":49,"y":36,"v":-8},{"x":80,"y":36,"v":-9},{"x":81,"y":36,"v":-22},{"x":82,"y":36,"v":-28},{"x":83,"y":36,"v":-31},{"x":84,"y":36,"v":-27},{"x":85,"y":36,"v":-33},{"x":86,"y":36,"v":-30},{"x":87,"y":36,"v":-34},{"x":88,"y":36,"v":-29},{"x":89,"y":36,"v":-32},{"x":90,"y":36,"v":-26},{"x":91,"y":36,"v":-9},
{"x":39,"y":35,"v":-7},{"x":40,"y":35,"v":-25},{"x":41,"y":35,"v":-30},{"x":42,"y":35,"v":-27},{"x":43,"y":35,"v":-33},{"x":44,"y":35,"v":-31},{"x":45,"y":35,"v":-29},{"x":46,"y":35,"v":-35},{"x":47,"y":35,"v":-32},{"x":48,"y":35,"v":-28},{"x":49,"y":35,"v":-24},{"x":50,"y":35,"v":-17},{"x":51,"y":35,"v":-6},{"x":78,"y":35,"v":-8},{"x":79,"y":35,"v":-20},{"x":80,"y":35,"v":-26},{"x":81,"y":35,"v":-31},{"x":82,"y":35,"v":-28},{"x":83,"y":35,"v":-36},{"x":84,"y":35,"v":-33},{"x":85,"y":35,"v":-37},{"x":86,"y":35,"v":-30},{"x":87,"y":35,"v":-27},{"x":88,"y":35,"v":-32},{"x":89,"y":35,"v":-25},{"x":90,"y":35,"v":-6},
{"x":41,"y":34,"v":-26},{"x":42,"y":34,"v":-31},{"x":43,"y":34,"v":-28},{"x":44,"y":34,"v":-34},{"x":45,"y":34,"v":-37},{"x":46,"y":34,"v":-33},{"x":47,"y":34,"v":-30},{"x":48,"y":34,"v":-27},{"x":49,"y":34,"v":-34},{"x":50,"y":34,"v":-31},{"x":51,"y":34,"v":-24},{"x":52,"y":34,"v":-18},{"x":53,"y":34,"v":-10},{"x":54,"y":34,"v":-5},{"x":75,"y":34,"v":-6},{"x":76,"y":34,"v":-12},{"x":77,"y":34,"v":-19},{"x":78,"y":34,"v":-25},{"x":79,"y":34,"v":-32},{"x":80,"y":34,"v":-36},{"x":81,"y":34,"v":-38},{"x":82,"y":34,"v":-31},{"x":83,"y":34,"v":-28},{"x":84,"y":34,"v":-33},{"x":85,"y":34,"v":-30},{"x":86,"y":34,"v":-35},{"x":87,"y":34,"v":-31},{"x":88,"y":34,"v":-26},
{"x":42,"y":33,"v":-19},{"x":43,"y":33,"v":-29},{"x":44,"y":33,"v":-32},{"x":45,"y":33,"v":-35},{"x":46,"y":33,"v":-30},{"x":47,"y":33,"v":-27},{"x":48,"y":33,"v":-33},{"x":49,"y":33,"v":-38},{"x":50,"y":33,"v":-34},{"x":51,"y":33,"v":-37},{"x":52,"y":33,"v":-33},{"x":53,"y":33,"v":-36},{"x":54,"y":33,"v":-24},{"x":55,"y":33,"v":-16},{"x":56,"y":33,"v":-10},{"x":57,"y":33,"v":-6},{"x":58,"y":33,"v":-3},{"x":71,"y":33,"v":-3},{"x":72,"y":33,"v":-7},{"x":73,"y":33,"v":-11},{"x":74,"y":33,"v":-17},{"x":75,"y":33,"v":-21},{"x":76,"y":33,"v":-26},{"x":77,"y":33,"v":-29},{"x":78,"y":33,"v":-33},{"x":79,"y":33,"v":-30},{"x":80,"y":33,"v":-35},{"x":81,"y":33,"v":-31},{"x":82,"y":33,"v":-28},{"x":83,"y":33,"v":-36},{"x":84,"y":33,"v":-32},{"x":85,"y":33,"v":-29},{"x":86,"y":33,"v":-26},{"x":87,"y":33,"v":-19},
{"x":44,"y":32,"v":-24},{"x":45,"y":32,"v":-28},{"x":46,"y":32,"v":-33},{"x":47,"y":32,"v":-30},{"x":48,"y":32,"v":-36},{"x":49,"y":32,"v":-33},{"x":50,"y":32,"v":-29},{"x":51,"y":32,"v":-35},{"x":52,"y":32,"v":-38},{"x":53,"y":32,"v":-45},{"x":54,"y":32,"v":-37},{"x":55,"y":32,"v":-33},{"x":56,"y":32,"v":-31},{"x":57,"y":32,"v":-27},{"x":58,"y":32,"v":-24},{"x":59,"y":32,"v":-29},{"x":60,"y":32,"v":-32},{"x":61,"y":32,"v":-28},{"x":62,"y":32,"v":-30},{"x":63,"y":32,"v":-26},{"x":64,"y":32,"v":-24},{"x":65,"y":32,"v":-22},{"x":66,"y":32,"v":-25},{"x":67,"y":32,"v":-21},{"x":68,"y":32,"v":-24},{"x":69,"y":32,"v":-23},{"x":70,"y":32,"v":-27},{"x":71,"y":32,"v":-25},{"x":72,"y":32,"v":-29},{"x":73,"y":32,"v":-26},{"x":74,"y":32,"v":-31},{"x":75,"y":32,"v":-34},{"x":76,"y":32,"v":-37},{"x":77,"y":32,"v":-32},{"x":78,"y":32,"v":-29},{"x":79,"y":32,"v":-35},{"x":80,"y":32,"v":-31},{"x":81,"y":32,"v":-28},{"x":82,"y":32,"v":-33},{"x":83,"y":32,"v":-30},{"x":84,"y":32,"v":-26},{"x":85,"y":32,"v":-14},
{"x":45,"y":31,"v":-7},{"x":46,"y":31,"v":-20},{"x":47,"y":31,"v":-27},{"x":48,"y":31,"v":-31},{"x":49,"y":31,"v":-34},{"x":50,"y":31,"v":-37},{"x":51,"y":31,"v":-33},{"x":52,"y":31,"v":-36},{"x":53,"y":31,"v":-39},{"x":54,"y":31,"v":-35},{"x":55,"y":31,"v":-31},{"x":56,"y":31,"v":-28},{"x":57,"y":31,"v":-33},{"x":58,"y":31,"v":-36},{"x":59,"y":31,"v":-30},{"x":60,"y":31,"v":-27},{"x":61,"y":31,"v":-32},{"x":62,"y":31,"v":-35},{"x":63,"y":31,"v":-31},{"x":64,"y":31,"v":-28},{"x":65,"y":31,"v":-34},{"x":66,"y":31,"v":-30},{"x":67,"y":31,"v":-26},{"x":68,"y":31,"v":-24},{"x":69,"y":31,"v":-29},{"x":70,"y":31,"v":-27},{"x":71,"y":31,"v":-33},{"x":72,"y":31,"v":-36},{"x":73,"y":31,"v":-31},{"x":74,"y":31,"v":-35},{"x":75,"y":31,"v":-30},{"x":76,"y":31,"v":-33},{"x":77,"y":31,"v":-38},{"x":78,"y":31,"v":-34},{"x":79,"y":31,"v":-30},{"x":80,"y":31,"v":-28},{"x":81,"y":31,"v":-25},{"x":82,"y":31,"v":-27},{"x":83,"y":31,"v":-19},{"x":84,"y":31,"v":-10},
{"x":47,"y":30,"v":-8},{"x":48,"y":30,"v":-21},{"x":49,"y":30,"v":-29},{"x":50,"y":30,"v":-33},{"x":51,"y":30,"v":-36},{"x":52,"y":30,"v":-32},{"x":53,"y":30,"v":-35},{"x":54,"y":30,"v":-38},{"x":55,"y":30,"v":-33},{"x":56,"y":30,"v":-29},{"x":57,"y":30,"v":-34},{"x":58,"y":30,"v":-31},{"x":59,"y":30,"v":-37},{"x":60,"y":30,"v":-33},{"x":61,"y":30,"v":-30},{"x":62,"y":30,"v":-36},{"x":63,"y":30,"v":-38},{"x":64,"y":30,"v":-32},{"x":65,"y":30,"v":-35},{"x":66,"y":30,"v":-29},{"x":67,"y":30,"v":-33},{"x":68,"y":30,"v":-36},{"x":69,"y":30,"v":-31},{"x":70,"y":30,"v":-34},{"x":71,"y":30,"v":-38},{"x":72,"y":30,"v":-33},{"x":73,"y":30,"v":-29},{"x":74,"y":30,"v":-32},{"x":75,"y":30,"v":-36},{"x":76,"y":30,"v":-30},{"x":77,"y":30,"v":-33},{"x":78,"y":30,"v":-27},{"x":79,"y":30,"v":-31},{"x":80,"y":30,"v":-28},{"x":81,"y":30,"v":-20},{"x":82,"y":30,"v":-7},
{"x":49,"y":29,"v":-9},{"x":50,"y":29,"v":-20},{"x":51,"y":29,"v":-27},{"x":52,"y":29,"v":-31},{"x":53,"y":29,"v":-28},{"x":54,"y":29,"v":-34},{"x":55,"y":29,"v":-30},{"x":56,"y":29,"v":-37},{"x":57,"y":29,"v":-33},{"x":58,"y":29,"v":-36},{"x":59,"y":29,"v":-31},{"x":60,"y":29,"v":-28},{"x":61,"y":29,"v":-34},{"x":62,"y":29,"v":-38},{"x":63,"y":29,"v":-32},{"x":64,"y":29,"v":-36},{"x":65,"y":29,"v":-31},{"x":66,"y":29,"v":-35},{"x":67,"y":29,"v":-29},{"x":68,"y":29,"v":-33},{"x":69,"y":29,"v":-37},{"x":70,"y":29,"v":-32},{"x":71,"y":29,"v":-30},{"x":72,"y":29,"v":-35},{"x":73,"y":29,"v":-38},{"x":74,"y":29,"v":-33},{"x":75,"y":29,"v":-29},{"x":76,"y":29,"v":-31},{"x":77,"y":29,"v":-28},{"x":78,"y":29,"v":-24},{"x":79,"y":29,"v":-18},{"x":80,"y":29,"v":-8},
{"x":51,"y":28,"v":-4},{"x":52,"y":28,"v":-11},{"x":53,"y":28,"v":-18},{"x":54,"y":28,"v":-25},{"x":55,"y":28,"v":-29},{"x":56,"y":28,"v":-32},{"x":57,"y":28,"v":-28},{"x":58,"y":28,"v":-33},{"x":59,"y":28,"v":-36},{"x":60,"y":28,"v":-31},{"x":61,"y":28,"v":-34},{"x":62,"y":28,"v":-29},{"x":63,"y":28,"v":-33},{"x":64,"y":28,"v":-30},{"x":65,"y":28,"v":-35},{"x":66,"y":28,"v":-37},{"x":67,"y":28,"v":-32},{"x":68,"y":28,"v":-29},{"x":69,"y":28,"v":-34},{"x":70,"y":28,"v":-31},{"x":71,"y":28,"v":-36},{"x":72,"y":28,"v":-30},{"x":73,"y":28,"v":-27},{"x":74,"y":28,"v":-31},{"x":75,"y":28,"v":-24},{"x":76,"y":28,"v":-17},{"x":77,"y":28,"v":-9},{"x":78,"y":28,"v":-3},
{"x":55,"y":27,"v":-5},{"x":56,"y":27,"v":-9},{"x":57,"y":27,"v":-17},{"x":58,"y":27,"v":-22},{"x":59,"y":27,"v":-25},{"x":60,"y":27,"v":-21},{"x":61,"y":27,"v":-27},{"x":62,"y":27,"v":-30},{"x":63,"y":27,"v":-26},{"x":64,"y":27,"v":-29},{"x":65,"y":27,"v":-24},{"x":66,"y":27,"v":-28},{"x":67,"y":27,"v":-31},{"x":68,"y":27,"v":-26},{"x":69,"y":27,"v":-24},{"x":70,"y":27,"v":-27},{"x":71,"y":27,"v":-23},{"x":72,"y":27,"v":-20},{"x":73,"y":27,"v":-13},{"x":74,"y":27,"v":-6},
{"x":60,"y":26,"v":-3},{"x":61,"y":26,"v":-5},{"x":62,"y":26,"v":-6},{"x":63,"y":26,"v":-8},{"x":64,"y":26,"v":-7},{"x":65,"y":26,"v":-9},{"x":66,"y":26,"v":-8},{"x":67,"y":26,"v":-6},{"x":68,"y":26,"v":-5},{"x":69,"y":26,"v":-3}
]},"mark":{"type":"rect","width":5.3,"height":5.1,"xOffset":2.445,"yOffset":-2.33},"encoding":{"x":{"field":"x","type":"quantitative","scale":{"domain":[0,128],"nice":false},"axis":{"values":[0,20,40,60,80,100,120],"title":"Vertice index in the x direction","titlePadding":4,"labelFlush":false}},"y":{"field":"y","type":"quantitative","scale":{"domain":[0,128],"nice":false},"axis":{"values":[0,20,40,60,80,100,120],"title":"Vertice index in the y direction","titlePadding":5}},"color":{"field":"v","type":"quantitative","scale":{"scheme":"viridis","domain":[-45.75,0]},"legend":null}}},{"data":{"values":[{"arrow":"top","x":65.0,"y":123.7},{"arrow":"top","x":64.2,"y":83.2},{"arrow":"left","x":5.3,"y":64.5},{"arrow":"left","x":51.5,"y":63.5},{"arrow":"right","x":121.3,"y":61.3},{"arrow":"right","x":78.1,"y":60.9},{"arrow":"bottom","x":62.6,"y":5.8},{"arrow":"bottom","x":64.6,"y":48.5}]},"mark":{"type":"line","color":"#006400","strokeWidth":4},"encoding":{"x":{"field":"x","type":"quantitative"},"y":{"field":"y","type":"quantitative"},"detail":{"field":"arrow"}}},{"data":{"values":[{"arrow":"top","x":64.3,"y":79.3,"angle":181},{"arrow":"left","x":55.2,"y":63.5,"angle":91},{"arrow":"right","x":74.4,"y":60.9,"angle":269.5},{"arrow":"bottom","x":64.8,"y":52.7,"angle":2.9}]},"mark":{"type":"point","filled":true,"opacity":1,"color":"#006400","size":1600,"shape":"M0,-0.95L0.68,0.95Q0,0.55,-0.68,0.95Z"},"encoding":{"x":{"field":"x","type":"quantitative"},"y":{"field":"y","type":"quantitative"},"angle":{"field":"angle","type":"quantitative","scale":null}}}]},{"width":29,"height":597,"data":{"values":[{"c":-0.25},{"c":-0.75},{"c":-1.25},{"c":-1.75},{"c":-2.25},{"c":-2.75},{"c":-3.25},{"c":-3.75},{"c":-4.25},{"c":-4.75},{"c":-5.25},{"c":-5.75},{"c":-6.25},{"c":-6.75},{"c":-7.25},{"c":-7.75},{"c":-8.25},{"c":-8.75},{"c":-9.25},{"c":-9.75},{"c":-10.25},{"c":-10.75},{"c":-11.25},{"c":-11.75},{"c":-12.25},{"c":-12.75},{"c":-13.25},{"c":-13.75},{"c":-14.25},{"c":-14.75},{"c":-15.25},{"c":-15.75},{"c":-16.25},{"c":-16.75},{"c":-17.25},{"c":-17.75},{"c":-18.25},{"c":-18.75},{"c":-19.25},{"c":-19.75},{"c":-20.25},{"c":-20.75},{"c":-21.25},{"c":-21.75},{"c":-22.25},{"c":-22.75},{"c":-23.25},{"c":-23.75},{"c":-24.25},{"c":-24.75},{"c":-25.25},{"c":-25.75},{"c":-26.25},{"c":-26.75},{"c":-27.25},{"c":-27.75},{"c":-28.25},{"c":-28.75},{"c":-29.25},{"c":-29.75},{"c":-30.25},{"c":-30.75},{"c":-31.25},{"c":-31.75},{"c":-32.25},{"c":-32.75},{"c":-33.25},{"c":-33.75},{"c":-34.25},{"c":-34.75},{"c":-35.25},{"c":-35.75},{"c":-36.25},{"c":-36.75},{"c":-37.25},{"c":-37.75},{"c":-38.25},{"c":-38.75},{"c":-39.25},{"c":-39.75},{"c":-40.25},{"c":-40.75},{"c":-41.25},{"c":-41.75},{"c":-42.25},{"c":-42.75},{"c":-43.25},{"c":-43.75},{"c":-44.25},{"c":-44.75},{"c":-45.25},{"c":-45.5}]},"mark":{"type":"rect","height":7},"encoding":{"y":{"field":"c","type":"quantitative","scale":{"domain":[-45.75,0],"nice":false},"axis":{"orient":"right","values":[0,-10,-20,-30,-40],"title":null}},"color":{"field":"c","type":"quantitative","scale":{"scheme":"viridis","domain":[-45.75,0]},"legend":null}}}]}
